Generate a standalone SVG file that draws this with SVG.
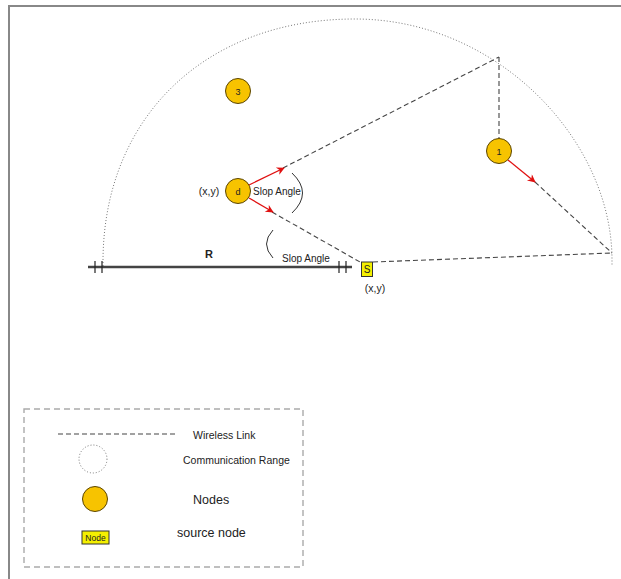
<svg xmlns="http://www.w3.org/2000/svg" width="621" height="579" viewBox="0 0 621 579">
<style>
text{font-family:"Liberation Sans",Arial,sans-serif;fill:#222}
.node{fill:#f7c300;stroke:#5a4400;stroke-width:1}
.link{fill:none;stroke:#444;stroke-width:1.1;stroke-dasharray:5,3}
.range{fill:none;stroke:#777;stroke-width:1;stroke-dasharray:1,2}
.red{stroke:#e01010;stroke-width:1.3;fill:none;marker-end:url(#ah)}
.tick{stroke:#222;stroke-width:1.2}
</style>
<defs>
<marker id="ah" viewBox="0 0 10 10" refX="9" refY="5" markerWidth="10" markerHeight="8" markerUnits="userSpaceOnUse" orient="auto">
<path d="M0,0 L10,5 L0,10 L3,5 z" fill="#e01010"/>
</marker>
</defs>
<rect width="621" height="579" fill="#fff"/>
<path d="M9,579 L9,6 L621,6" fill="none" stroke="#888" stroke-width="2"/>
<g id="range">
<path class="range" d="M103,266 L103,262 C103,118 205,19 355,19 C497,19 612,140 612,260 L612,266"/>
</g>
<g id="connectors">
<path class="link" d="M283,168 L499,57"/>
<path class="link" d="M272,212 L360,262"/>
<path class="link" d="M373,262 L612,253"/>
<path class="link" d="M499,57 L499,138"/>
<path class="link" d="M535,182 L612,253"/>
<path class="red" d="M249,185 L284,168"/>
<path class="red" d="M249,198 L273,212"/>
<path class="red" d="M508,160 L535,182"/>
<path d="M292,173 Q313,193 292,213" fill="none" stroke="#333" stroke-width="1"/>
<path d="M273,230 Q260,244 273,258" fill="none" stroke="#333" stroke-width="1"/>
</g>
<g id="radius">
<line x1="88" y1="267" x2="352" y2="267" stroke="#444" stroke-width="2.5"/>
<line class="tick" x1="95" y1="261" x2="95" y2="273"/>
<line class="tick" x1="102" y1="261" x2="102" y2="273"/>
<line class="tick" x1="339" y1="261" x2="339" y2="273"/>
<line class="tick" x1="346" y1="261" x2="346" y2="273"/>
<text x="209" y="258" font-size="11" font-weight="bold" text-anchor="middle">R</text>
</g>
<g id="node-3">
<circle class="node" cx="238" cy="91" r="12.5"/>
<text x="238" y="94.5" font-size="9" text-anchor="middle">3</text>
</g>
<g id="node-d">
<circle class="node" cx="238" cy="191" r="12.5"/>
<text x="238" y="194.5" font-size="9" text-anchor="middle">d</text>
<text x="209" y="195" font-size="10.5" text-anchor="middle">(x,y)</text>
</g>
<g id="node-1">
<circle class="node" cx="499" cy="151" r="12.5"/>
<text x="499" y="154.5" font-size="9" text-anchor="middle">1</text>
</g>
<g id="node-S">
<rect x="361.5" y="262" width="11" height="14.5" fill="#f4ef00" stroke="#333" stroke-width="1"/>
<text x="367" y="273" font-size="10" text-anchor="middle">S</text>
<text x="375" y="292" font-size="10.5" text-anchor="middle">(x,y)</text>
</g>
<g id="labels">
<text x="253" y="195" font-size="10">Slop Angle</text>
<text x="282" y="262" font-size="10">Slop Angle</text>
</g>
<g id="legend">
<rect x="24" y="409" width="279" height="158" fill="none" stroke="#aaa" stroke-width="1.4" stroke-dasharray="6,4"/>
<line class="link" x1="58" y1="434" x2="175" y2="434" stroke-dasharray="4,2"/>
<text x="193" y="438.5" font-size="10.5">Wireless Link</text>
<circle class="range" cx="93" cy="459" r="14"/>
<text x="183" y="463.5" font-size="10.5">Communication Range</text>
<circle class="node" cx="95" cy="499" r="12.5"/>
<text x="193" y="504" font-size="12.5">Nodes</text>
<rect x="82" y="531" width="27" height="13" fill="#f4ef00" stroke="#333" stroke-width="1"/>
<text x="95.5" y="541" font-size="8.5" text-anchor="middle">Node</text>
<text x="177" y="537" font-size="12.5">source node</text>
</g>
</svg>
